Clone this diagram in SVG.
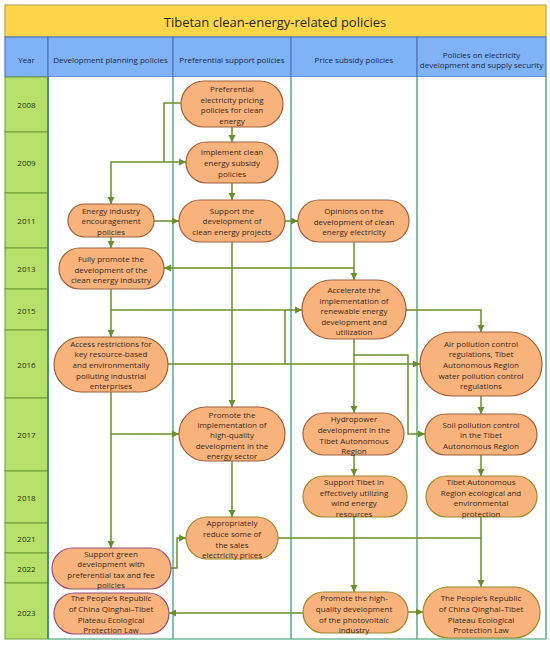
<svg xmlns="http://www.w3.org/2000/svg" width="550" height="645" viewBox="0 0 550 645">
<defs>
<marker id="ah" markerUnits="userSpaceOnUse" markerWidth="8" markerHeight="8" refX="7" refY="4" orient="auto">
<path d="M0,0.5 L7,4 L0,7.5 z" fill="#6a8f2a"/>
</marker>
<style>
text{font-family:"Open Sans","Noto Sans","DejaVu Sans",sans-serif;fill:#3b2a1e;text-anchor:middle;dominant-baseline:central}
.nt{font-size:8px}
.hd{font-size:8px;fill:#1e2a40}
.yr{font-size:8px;fill:#26341a}
.title{font-size:13px;fill:#2a2a2a}
.node{fill:#f8b27c;stroke:#a0603a;stroke-width:1.2}
.ol{stroke:#9a8a2a}
.pu{stroke:#95507a}
.yc{fill:#b6e06a;stroke:#6f9a3a;stroke-width:1}
.lane{stroke:#2f9a6c;stroke-width:1.2;fill:none}
.hc{fill:#7fb2f7;stroke:#4f78c2;stroke-width:1.2}
#connectors path{fill:none;stroke:#6a8f2a;stroke-width:1.5}
</style>
</defs>
<rect x="0" y="0" width="550" height="645" fill="#ffffff"/>
<g id="title">
<rect x="5" y="5" width="541" height="32" fill="#fcd648" stroke="#b8a858" stroke-width="1.2"/>
<text class="title" x="275" y="21.5">Tibetan clean-energy-related policies</text>
</g>
<g id="header">
<rect class="hc" x="5" y="37" width="43" height="40"/>
<rect class="hc" x="48" y="37" width="125" height="40"/>
<rect class="hc" x="173" y="37" width="118" height="40"/>
<rect class="hc" x="291" y="37" width="126" height="40"/>
<rect class="hc" x="417" y="37" width="129" height="40"/>
<text class="hd" x="26.5" y="59">Year</text>
<text class="hd" x="110.5" y="59">Development planning policies</text>
<text class="hd" x="232" y="59">Preferential support policies</text>
<text class="hd" x="354" y="59">Price subsidy policies</text>
<text class="hd" x="481.5" y="54">Policies on electricity</text>
<text class="hd" x="481.5" y="64.5">development and supply security</text>
</g>
<g id="lanes">
<rect x="48" y="77" width="498" height="562" fill="#ffffff"/>
<path class="lane" d="M173,77 V639 M291,77 V639 M417,77 V639 M546,77 V639 M48,639 H546"/>
</g>
<g id="years">
<rect class="yc" x="5" y="77" width="43" height="55"/>
<rect class="yc" x="5" y="132" width="43" height="61"/>
<rect class="yc" x="5" y="193" width="43" height="55"/>
<rect class="yc" x="5" y="248" width="43" height="41"/>
<rect class="yc" x="5" y="289" width="43" height="41"/>
<rect class="yc" x="5" y="330" width="43" height="68"/>
<rect class="yc" x="5" y="398" width="43" height="73"/>
<rect class="yc" x="5" y="471" width="43" height="52"/>
<rect class="yc" x="5" y="523" width="43" height="30"/>
<rect class="yc" x="5" y="553" width="43" height="30"/>
<rect class="yc" x="5" y="583" width="43" height="56"/>
<path d="M48,77 V639" stroke="#2f8a78" stroke-width="1.6"/>
<text class="yr" x="26.5" y="104">2008</text>
<text class="yr" x="26.5" y="162.5">2009</text>
<text class="yr" x="26.5" y="220.5">2011</text>
<text class="yr" x="26.5" y="268.5">2013</text>
<text class="yr" x="26.5" y="310">2015</text>
<text class="yr" x="26.5" y="364">2016</text>
<text class="yr" x="26.5" y="434">2017</text>
<text class="yr" x="26.5" y="497">2018</text>
<text class="yr" x="26.5" y="538">2021</text>
<text class="yr" x="26.5" y="568.5">2022</text>
<text class="yr" x="26.5" y="612.5">2023</text>
</g>
<g id="connectors">
<path d="M232,127 V142" marker-end="url(#ah)"/>
<path d="M232,183 V200" marker-end="url(#ah)"/>
<path d="M181,103 H164 V162 H186" marker-end="url(#ah)"/>
<path d="M164,162 H111 V204" marker-end="url(#ah)"/>
<path d="M154,221 H179" marker-end="url(#ah)"/>
<path d="M285,221 H298" marker-end="url(#ah)"/>
<path d="M111,237 V248" marker-end="url(#ah)"/>
<path d="M354,242 V280" marker-end="url(#ah)"/>
<path d="M354,268 H164" marker-end="url(#ah)"/>
<path d="M232,242 V407" marker-end="url(#ah)"/>
<path d="M111,289 V337" marker-end="url(#ah)"/>
<path d="M111,310 H302" marker-end="url(#ah)"/>
<path d="M168,364 H420" marker-end="url(#ah)"/>
<path d="M285,364 V310"/>
<path d="M406,310 H481 V332" marker-end="url(#ah)"/>
<path d="M354,339 V413" marker-end="url(#ah)"/>
<path d="M354,355 H408 V434 H425" marker-end="url(#ah)"/>
<path d="M481,396 V414" marker-end="url(#ah)"/>
<path d="M111,392 V548" marker-end="url(#ah)"/>
<path d="M111,434 H179" marker-end="url(#ah)"/>
<path d="M232,461 V517" marker-end="url(#ah)"/>
<path d="M354,455 V476" marker-end="url(#ah)"/>
<path d="M481,455 V476" marker-end="url(#ah)"/>
<path d="M354,517 V592" marker-end="url(#ah)"/>
<path d="M481,517 V587" marker-end="url(#ah)"/>
<path d="M278,538 H481"/>
<path d="M171,568 H177 V538 H186" marker-end="url(#ah)"/>
<path d="M408,612 H423" marker-end="url(#ah)"/>
<path d="M303,613 H169" marker-end="url(#ah)"/>
</g>
<g id="n1">
<rect class="node" x="181" y="81" width="102" height="46" rx="23"/>
<text class="nt" x="232" y="88">Preferential</text>
<text class="nt" x="232" y="99">electricity pricing</text>
<text class="nt" x="232" y="109.5">policies for clean</text>
<text class="nt" x="232" y="120">energy</text>
</g>
<g id="n2">
<rect class="node" x="186" y="142" width="92" height="41" rx="20.5"/>
<text class="nt" x="232" y="151.5">Implement clean</text>
<text class="nt" x="232" y="162.5">energy subsidy</text>
<text class="nt" x="232" y="173.3">policies</text>
</g>
<g id="n3">
<rect class="node" x="179" y="200" width="106" height="42" rx="21"/>
<text class="nt" x="232" y="210">Support the</text>
<text class="nt" x="232" y="220.7">development of</text>
<text class="nt" x="232" y="231.5">clean energy projects</text>
</g>
<g id="n4">
<rect class="node" x="68" y="204" width="86" height="33" rx="16.5"/>
<text class="nt" x="111" y="210">Energy industry</text>
<text class="nt" x="111" y="220.7">encouragement</text>
<text class="nt" x="111" y="231.3">policies</text>
</g>
<g id="n5">
<rect class="node" x="298" y="200" width="111" height="42" rx="21"/>
<text class="nt" x="354" y="210">Opinions on the</text>
<text class="nt" x="354" y="221">development of clean</text>
<text class="nt" x="354" y="231.3">energy electricity</text>
</g>
<g id="n6">
<rect class="node" x="59" y="248" width="105" height="41" rx="20.5"/>
<text class="nt" x="111" y="258.3">Fully promote the</text>
<text class="nt" x="111" y="269">development of the</text>
<text class="nt" x="111" y="279.3">clean energy industry</text>
</g>
<g id="n7">
<rect class="node" x="302" y="280" width="104" height="59" rx="29.5"/>
<text class="nt" x="354" y="289">Accelerate the</text>
<text class="nt" x="354" y="300">implementation of</text>
<text class="nt" x="354" y="310.7">renewable energy</text>
<text class="nt" x="354" y="321">development and</text>
<text class="nt" x="354" y="331">utilization</text>
</g>
<g id="n8">
<rect class="node" x="54" y="337" width="114" height="55" rx="27.5"/>
<text class="nt" x="111" y="343.3">Access restrictions for</text>
<text class="nt" x="111" y="353.7">key resource-based</text>
<text class="nt" x="111" y="364.7">and environmentally</text>
<text class="nt" x="111" y="375">polluting industrial</text>
<text class="nt" x="111" y="385.7">enterprises</text>
</g>
<g id="n10">
<rect class="node" x="420" y="332" width="122" height="64" rx="32"/>
<text class="nt" x="481" y="343.3">Air pollution control</text>
<text class="nt" x="481" y="353.7">regulations, Tibet</text>
<text class="nt" x="481" y="364.7">Autonomous Region</text>
<text class="nt" x="481" y="375">water pollution control</text>
<text class="nt" x="481" y="385.7">regulations</text>
</g>
<g id="n9">
<rect class="node" x="179" y="407" width="106" height="54" rx="27"/>
<text class="nt" x="232" y="414">Promote the</text>
<text class="nt" x="232" y="424.3">implementation of</text>
<text class="nt" x="232" y="434.7">high-quality</text>
<text class="nt" x="232" y="445">development in the</text>
<text class="nt" x="232" y="455.7">energy sector</text>
</g>
<g id="n11">
<rect class="node" x="303" y="413" width="101" height="42" rx="21"/>
<text class="nt" x="354" y="418.3">Hydropower</text>
<text class="nt" x="354" y="429">development in the</text>
<text class="nt" x="354" y="440">Tibet Autonomous</text>
<text class="nt" x="354" y="450.7">Region</text>
</g>
<g id="n12">
<rect class="node" x="425" y="414" width="112" height="41" rx="20.5"/>
<text class="nt" x="481" y="424">Soil pollution control</text>
<text class="nt" x="481" y="434.3">in the Tibet</text>
<text class="nt" x="481" y="445">Autonomous Region</text>
</g>
<g id="n13">
<rect class="node ol" x="303" y="476" width="104" height="41" rx="20.5"/>
<text class="nt" x="354" y="481.7">Support Tibet in</text>
<text class="nt" x="354" y="492.3">effectively utilizing</text>
<text class="nt" x="354" y="502.7">wind energy</text>
<text class="nt" x="354" y="513.3">resources</text>
</g>
<g id="n14">
<rect class="node ol" x="426" y="476" width="111" height="41" rx="20.5"/>
<text class="nt" x="481" y="481.7">Tibet Autonomous</text>
<text class="nt" x="481" y="492.3">Region ecological and</text>
<text class="nt" x="481" y="502.7">environmental</text>
<text class="nt" x="481" y="513.3">protection</text>
</g>
<g id="n16">
<rect class="node ol" x="186" y="517" width="92" height="42" rx="21"/>
<text class="nt" x="232" y="522.7">Appropriately</text>
<text class="nt" x="232" y="533.3">reduce some of</text>
<text class="nt" x="232" y="544">the sales</text>
<text class="nt" x="232" y="554.3">electricity prices</text>
</g>
<g id="n15">
<rect class="node pu" x="52" y="548" width="119" height="41" rx="20.5"/>
<text class="nt" x="111" y="553.3">Support green</text>
<text class="nt" x="111" y="563.5">development with</text>
<text class="nt" x="111" y="574">preferential tax and fee</text>
<text class="nt" x="111" y="584.3">policies</text>
</g>
<g id="n19">
<rect class="node pu" x="54" y="593" width="115" height="41" rx="20.5"/>
<text class="nt" x="111" y="597.7">The People’s Republic</text>
<text class="nt" x="111" y="608.3">of China Qinghai–Tibet</text>
<text class="nt" x="111" y="619">Plateau Ecological</text>
<text class="nt" x="111" y="629">Protection Law</text>
</g>
<g id="n17">
<rect class="node ol" x="303" y="592" width="105" height="41" rx="20.5"/>
<text class="nt" x="354" y="597.3">Promote the high-</text>
<text class="nt" x="354" y="608.3">quality development</text>
<text class="nt" x="354" y="619">of the photovoltaic</text>
<text class="nt" x="354" y="629">industry</text>
</g>
<g id="n18">
<rect class="node ol" x="423" y="587" width="117" height="51" rx="25.5"/>
<text class="nt" x="481" y="597.3">The People’s Republic</text>
<text class="nt" x="481" y="608.3">of China Qinghai–Tibet</text>
<text class="nt" x="481" y="619">Plateau Ecological</text>
<text class="nt" x="481" y="629.3">Protection Law</text>
</g>
</svg>
